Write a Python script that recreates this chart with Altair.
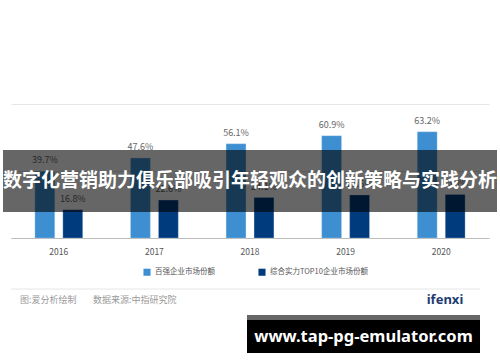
import altair as alt
import pandas as pd

years = ["2016", "2017", "2018", "2019", "2020"]
series_names = ["百强企业市场份额", "综合实力TOP10企业市场份额"]
top100_share = [39.7, 47.6, 56.1, 60.9, 63.2]
top10_share = [16.8, 22.6, 24.1, 25.6, 25.9]
colors = ["#3D8FD1", "#003B7E"]

title_text = "数字化营销助力俱乐部吸引年轻观众的创新策略与实践分析"
footer_left = "图:爱分析绘制"
footer_right = "数据来源:中指研究院"
logo_text = "ifenxi"
site_text = "www.tap-pg-emulator.com"

FONT = "Noto Sans CJK SC"

rows = []
for i, y in enumerate(years):
    rows.append({"year": y, "series": series_names[0], "value": top100_share[i]})
    rows.append({"year": y, "series": series_names[1], "value": top10_share[i]})
df = pd.DataFrame(rows)

one = pd.DataFrame({"k": [0]})

x_enc = alt.X("year:N", sort=years, title=None,
              scale=alt.Scale(paddingInner=0.5, paddingOuter=0.25),
              axis=alt.Axis(labelAngle=0, ticks=False, domainColor="#bbbbbb",
                            labelColor="#555555", labelFontSize=8.5, labelPadding=9,
                            labelFont=FONT, grid=False))
xo_enc = alt.XOffset("series:N", sort=series_names,
                     scale=alt.Scale(paddingInner=0.29, paddingOuter=0))
y_enc = alt.Y("value:Q", title=None,
              scale=alt.Scale(domain=[0, 100], nice=False),
              axis=alt.Axis(labels=False, ticks=False, domain=False,
                            values=[0, 20, 40, 60, 80, 100],
                            gridColor="#e6e6e6", gridWidth=1))

bars = alt.Chart(df).mark_bar(stroke="#cfe0f0", strokeWidth=0.5, strokeOpacity=0.6).encode(
    x=x_enc,
    xOffset=xo_enc,
    y=y_enc,
    color=alt.Color("series:N", sort=series_names,
                    scale=alt.Scale(domain=series_names, range=colors),
                    legend=alt.Legend(orient="none", legendX=132, legendY=198,
                                      direction="horizontal", title=None,
                                      symbolType="square", symbolSize=50,
                                      symbolStrokeWidth=0,
                                      labelFontSize=7.5, labelColor="#555555",
                                      labelFont=FONT, labelOffset=4,
                                      columnPadding=43)),
)

labels = alt.Chart(df).transform_calculate(
    label="format(datum.value, '.1f') + '%'"
).mark_text(dy=-6, fontSize=9, color="#666666", font=FONT, baseline="bottom").encode(
    x=alt.X("year:N", sort=years),
    xOffset=alt.XOffset("series:N", sort=series_names),
    y="value:Q",
    text="label:N",
)

band = alt.Chart(one).mark_rect(color="#000000", opacity=0.6).encode(
    x=alt.value(-8), x2=alt.value(486), y=alt.value(80), y2=alt.value(142)
)
title = alt.Chart(one).mark_text(fontSize=19, fontWeight="bold", color="#ffffff",
                                 font=FONT, align="center", baseline="middle").encode(
    x=alt.value(239), y=alt.value(111), text=alt.value(title_text)
)
footer_rule = alt.Chart(one).mark_rule(color="#e6e6e6", strokeWidth=1).encode(
    x=alt.value(0), x2=alt.value(469), y=alt.value(219)
)
footer1 = alt.Chart(one).mark_text(fontSize=9, color="#999999", font=FONT,
                                   align="left", baseline="middle").encode(
    x=alt.value(9), y=alt.value(230), text=alt.value(footer_left)
)
footer2 = alt.Chart(one).mark_text(fontSize=9, color="#999999", font=FONT,
                                   align="left", baseline="middle").encode(
    x=alt.value(82), y=alt.value(230), text=alt.value(footer_right)
)
logo = alt.Chart(one).mark_text(fontSize=13, fontWeight="bold", color="#1e3c72",
                                font="Noto Sans", align="center", baseline="middle").encode(
    x=alt.value(434), y=alt.value(230), text=alt.value(logo_text)
)
strip = alt.Chart(one).mark_rect(color="#666666").encode(
    x=alt.value(236), x2=alt.value(469), y=alt.value(245), y2=alt.value(250)
)
box = alt.Chart(one).mark_rect(color="#000000").encode(
    x=alt.value(236), x2=alt.value(469), y=alt.value(250), y2=alt.value(283)
)
site = alt.Chart(one).mark_text(fontSize=16.5, fontWeight="bold", color="#ffffff",
                                font="Noto Sans", align="center", baseline="middle").encode(
    x=alt.value(352.5), y=alt.value(267), text=alt.value(site_text)
)

chart = alt.layer(
    bars, labels, band, title, footer_rule, footer1, footer2, logo, strip, box, site
).properties(
    width=478, height=168,
    padding={"left": 11, "top": 70, "right": 11, "bottom": 124},
    autosize=alt.AutoSizeParams(type="none"),
    background="#ffffff",
).configure_view(stroke=None)

chart.save("out.html", embed_options={"renderer": "svg", "actions": False})
